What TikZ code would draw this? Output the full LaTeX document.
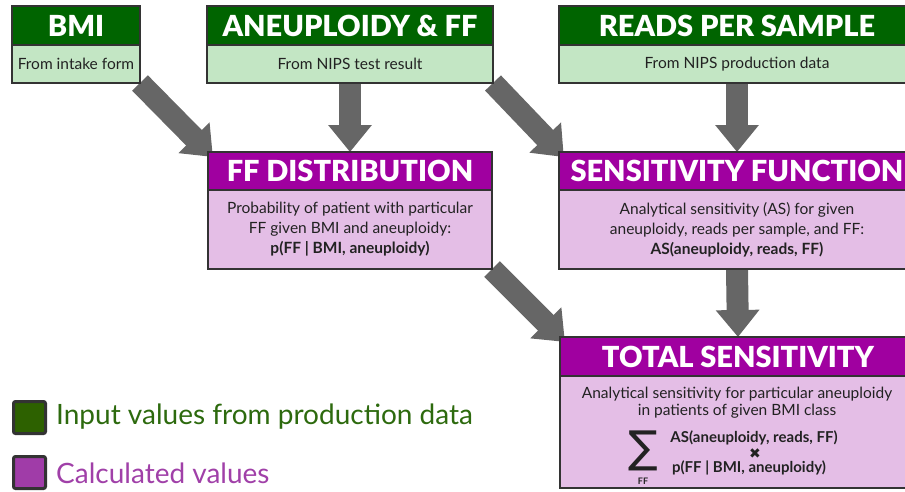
\documentclass[tikz,border=0pt]{standalone}
\usepackage{fontspec}
\setmainfont{Lato}
\newfontfamily\dejavu{DejaVu Sans}
\newfontface\titlefont{Lato Black}
\usetikzlibrary{arrows.meta,backgrounds}
\definecolor{hgreen}{HTML}{006400}
\definecolor{lgreen}{HTML}{C3E6C4}
\definecolor{hpurple}{HTML}{A000A0}
\definecolor{lpurple}{HTML}{E4BEE6}
\definecolor{bordc}{HTML}{333333}
\definecolor{arrg}{HTML}{666666}
\definecolor{leggreen}{HTML}{2D6A0E}
\definecolor{legpurple}{HTML}{A040A8}
\definecolor{sqgreen}{HTML}{2D6100}
\definecolor{sqpurple}{HTML}{A03CA8}
\definecolor{txt}{HTML}{222222}
\begin{document}
\begin{tikzpicture}[x=1pt,y=-1pt,
 box/.style={draw=bordc,line width=1.6pt,anchor=north west,inner sep=0pt,outer sep=0pt},
 hdr/.style={box,text=white,font=\titlefont\fontsize{29}{32}\selectfont,minimum height=39pt},
 hg/.style={hdr,fill=hgreen},
 hp/.style={hdr,fill=hpurple},
 bodyg/.style={box,fill=lgreen,font=\fontsize{15.5}{18}\selectfont,text=txt,minimum height=38pt},
 bodyp/.style={box,fill=lpurple,font=\fontsize{15.5}{20}\selectfont,align=center,text=txt},
 arr/.style={draw=arrg,line width=22pt,-{Triangle[length=27pt,width=42pt]}},
 legsq/.style={draw=bordc,line width=3pt,minimum size=32pt,rounded corners=2pt,inner sep=0pt},
 legtxt/.style={anchor=west,font=\fontsize{28}{30}\selectfont,inner sep=0pt},
 ftxt/.style={font=\bfseries\fontsize{15}{18}\selectfont,text=txt,inner sep=0pt}
]
\clip (0,0) rectangle (905,491);
% input boxes
\node[hg,minimum width=128pt] (bmih) at (12,6) {BMI};
\node[bodyg,minimum width=128pt] (bmib) at (12,45) {From intake form};
\node[hg,minimum width=286pt] (aneh) at (207,6) {ANEUPLOIDY \& FF};
\node[bodyg,minimum width=286pt] (aneb) at (207,45) {From NIPS test result};
\node[hg,minimum width=356pt] (rdsh) at (559,6) {READS PER SAMPLE};
\node[bodyg,minimum width=356pt] (rdsb) at (559,45) {From NIPS production data};
% calculated boxes
\node[hp,minimum width=284pt,minimum height=38pt] (ffh) at (208,152) {FF DISTRIBUTION};
\node[bodyp,minimum width=284pt,minimum height=79pt] (ffb) at (208,190)
 {Probability of patient with particular\\FF given BMI and aneuploidy:\\\textbf{p(FF | BMI, aneuploidy)}};
\node[hp,minimum width=356pt,minimum height=38pt] (sfh) at (559,152) {SENSITIVITY FUNCTION};
\node[bodyp,minimum width=356pt,minimum height=79pt] (sfb) at (559,190)
 {Analytical sensitivity (AS) for given\\aneuploidy, reads per sample, and FF:\\\textbf{AS(aneuploidy, reads, FF)}};
\node[hp,minimum width=356pt] (tsh) at (560,337) {TOTAL SENSITIVITY};
\node[box,fill=lpurple,minimum width=356pt,minimum height=112pt] (tsb) at (560,376) {};
\node[font=\fontsize{15.5}{17}\selectfont,align=center,text=txt,inner sep=0pt,anchor=north] (tst) at (737,387)
 {Analytical sensitivity for particular aneuploidy\\in patients of given BMI class};
\node[font=\dejavu\fontsize{44}{44}\selectfont,text=txt,inner sep=0pt] (sig) at (643,451) {∑};
\node[font=\bfseries\fontsize{9}{10}\selectfont,text=txt,inner sep=0pt] (sigff) at (643,481) {FF};
\node[ftxt] (fas) at (754,438) {AS(aneuploidy, reads, FF)};
\node[font=\dejavu\fontsize{14}{14}\selectfont,text=txt,inner sep=0pt] (ftimes) at (755,454) {✖};
\node[ftxt] (fp) at (749,468) {p(FF | BMI, aneuploidy)};
% legend
\node[legsq,fill=sqgreen] (lg1) at (29.5,417.5) {};
\node[legtxt,text=leggreen] (lt1) at (56,417) {Input values from production data};
\node[legsq,fill=sqpurple] (lg2) at (29.5,472.5) {};
\node[legtxt,text=legpurple] (lt2) at (56,473) {Calculated values};
% arrows
\begin{pgfonlayer}{background}
\draw[arr,shorten >=-7pt] (bmib.south east) -- (ffh.north west);
\draw[arr] (aneb.south) -- (ffh.north);
\draw[arr,shorten >=-7pt] (aneb.south east) -- (sfh.north west);
\draw[arr] (rdsb.south) -- (sfh.north);
\draw[arr,shorten >=-7pt] (ffb.south east) -- (tsh.north west);
\draw[arr] (sfb.south) -- (tsh.north);
\end{pgfonlayer}
\end{tikzpicture}
\end{document}
